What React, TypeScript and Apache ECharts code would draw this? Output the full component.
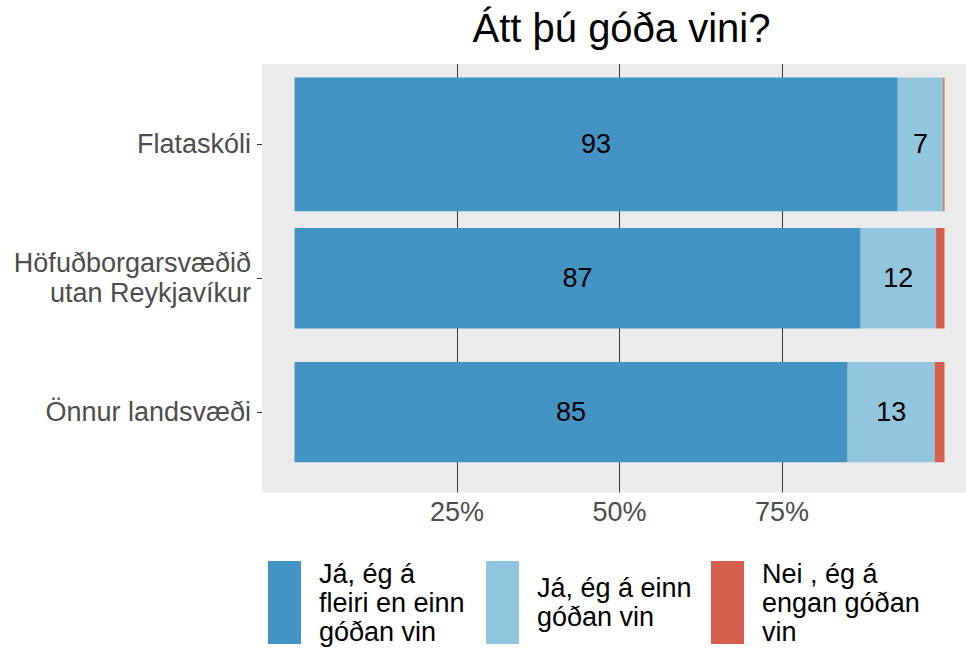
import React, { useEffect, useRef } from "react";
import * as echarts from "echarts";

const categories = ["Flataskóli", "Höfuðborgarsvæðið\nutan Reykjavíkur", "Önnur landsvæði"];
const seriesNames = [
  "Já, ég á fleiri en einn góðan vin",
  "Já, ég á einn góðan vin",
  "Nei , ég á engan góðan vin",
];
const legendLabels = ["Já, ég á\nfleiri en einn\ngóðan vin", "Já, ég á einn\ngóðan vin", "Nei , ég á\nengan góðan\nvin"];
const manyFriends = [92.8, 87.1, 85.1];
const oneFriend = [7.0, 11.6, 13.4];
const noFriend = [0.2, 1.3, 1.5];
const xTicks = [25, 50, 75];
const colors = ["#4393C3", "#92C5DE", "#D6604D"];

const FONT = "Liberation Sans, Arial, sans-serif";

export default function App() {
  const ref = useRef<HTMLDivElement>(null);
  useEffect(() => {
    if (!ref.current) return;
    const chart = echarts.init(ref.current, null, { renderer: "svg" });
    const values = [manyFriends, oneFriend, noFriend];
    const panelTop = 64;
    const panelH = 428.5;
    const panelLeft = 262;
    const panelW = 704;
    const pxPerUnit = 6.5;
    const zeroX = panelLeft + 5 * pxPerUnit;
    const band = panelH / 3.2;
    const legendLefts = [268, 486, 711];
    const legendTops = [553.8, 561, 557.8];
    const legendPadTop = [10.4, 18.8, 2.4];
    const barGrid = { left: panelLeft, top: panelTop + band * 0.1, width: panelW, height: band * 3, show: false };
    const barX = { type: "value", min: -5, max: -5 + panelW / pxPerUnit, show: false };
    // first category drawn wider than the other two, as in the reference
    const wideWidth = 134;
    const narrowWidth = band * 0.75;
    const series: any[] = [];
    seriesNames.forEach((name, i) => {
      const label = {
        show: i < 2,
        position: "inside",
        fontSize: 27,
        color: "#000",
        fontFamily: FONT,
        formatter: (p: any) => String(Math.round(p.value)),
      };
      series.push({
        name,
        type: "bar",
        xAxisIndex: 2,
        yAxisIndex: 2,
        stack: "wide",
        barWidth: wideWidth,
        data: values[i].map((v, j) => (j === 0 ? v : null)),
        itemStyle: { color: colors[i] },
        label,
      });
      series.push({
        name,
        type: "bar",
        xAxisIndex: 3,
        yAxisIndex: 3,
        stack: "narrow",
        barWidth: narrowWidth,
        data: values[i].map((v, j) => (j === 0 ? null : v)),
        itemStyle: { color: colors[i] },
        label,
      });
    });
    chart.setOption({
      animation: false,
      textStyle: { fontFamily: FONT },
      title: {
        text: "Átt þú góða vini?",
        left: 621.5,
        top: 8,
        textAlign: "center",
        padding: 0,
        textStyle: { fontSize: 40, fontWeight: "normal", color: "#000", fontFamily: FONT },
      },
      legend: seriesNames.map((name, i) => ({
        left: legendLefts[i],
        top: legendTops[i],
        padding: 0,
        orient: "horizontal",
        itemWidth: 33,
        itemHeight: 83,
        icon: "rect",
        data: [name],
        selectedMode: false,
        formatter: (n: string) => legendLabels[seriesNames.indexOf(n)],
        textStyle: {
          fontSize: 27,
          lineHeight: 29,
          color: "#000",
          fontFamily: FONT,
          padding: [legendPadTop[i], 0, 0, 13],
        },
      })),
      grid: [
        { left: panelLeft, top: panelTop, width: panelW, height: panelH, show: true, backgroundColor: "#EBEBEB", borderWidth: 0, z: -1 },
        { left: zeroX, top: panelTop, width: 100 * pxPerUnit, height: panelH, show: false },
        barGrid,
        { ...barGrid },
      ],
      xAxis: [
        { gridIndex: 0, type: "value", min: 0, max: 1, show: false },
        {
          gridIndex: 1,
          type: "value",
          min: 0,
          max: 100,
          interval: 25,
          z: 1,
          axisLine: { show: false },
          axisTick: { show: false },
          splitLine: { show: true, showMinLine: false, showMaxLine: false, lineStyle: { color: "#3a3a3a", width: 1 } },
          axisLabel: {
            margin: 6,
            fontSize: 27,
            color: "#4d4d4d",
            fontFamily: FONT,
            customValues: xTicks,
            formatter: (v: number) => (xTicks.includes(v) ? v + "%" : ""),
          },
        },
        { gridIndex: 2, ...barX },
        { gridIndex: 3, ...barX },
      ],
      yAxis: [
        { gridIndex: 0, type: "value", show: false },
        { gridIndex: 1, type: "value", show: false },
        {
          gridIndex: 2,
          type: "category",
          data: categories,
          inverse: true,
          axisLine: { show: false, onZero: false },
          axisTick: { show: true, length: 5, alignWithLabel: true, lineStyle: { color: "#333", width: 1 } },
          axisLabel: { fontSize: 27, color: "#4d4d4d", lineHeight: 30, margin: 11, align: "right", fontFamily: FONT },
        },
        {
          gridIndex: 3,
          type: "category",
          data: categories,
          inverse: true,
          show: false,
          axisLine: { onZero: false },
        },
      ],
      series,
    });
    return () => chart.dispose();
  }, []);
  return <div ref={ref} style={{ position: "absolute", left: 0, top: 0, width: 966, height: 652 }} />;
}
